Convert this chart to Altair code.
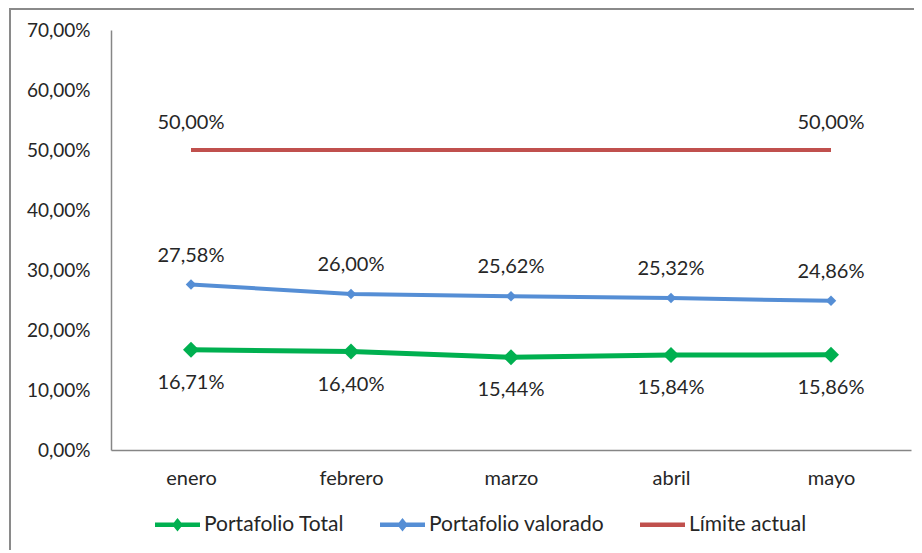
import altair as alt
import pandas as pd

meses = ["enero", "febrero", "marzo", "abril", "mayo"]
total = [16.71, 16.40, 15.44, 15.84, 15.86]
valorado = [27.58, 26.00, 25.62, 25.32, 24.86]
limite = [50.0, 50.0, 50.0, 50.0, 50.0]
series = ["Portafolio Total", "Portafolio valorado", "Límite actual"]
colores = ["#00B050", "#558ED5", "#C0504D"]
y_ticks = [0, 10, 20, 30, 40, 50, 60, 70]
limite_label_meses = ["enero", "mayo"]

rows = []
for s, vals in zip(series, [total, valorado, limite]):
    for m, v in zip(meses, vals):
        rows.append({"mes": m, "serie": s, "valor": v})
df = pd.DataFrame(rows)

TXT = "#262626"
GRAY = "#868686"
FS = 20
FMT = "replace(format(datum.valor, '.2f'), '.', ',') + '%'"

x = alt.X("mes:N", sort=meses,
          scale=alt.Scale(type="point", padding=0.5),
          axis=alt.Axis(title=None, labelAngle=0, ticks=False, domainColor=GRAY,
                        domainWidth=1.5, labelFontSize=FS, labelPadding=18,
                        labelColor=TXT))
y = alt.Y("valor:Q", scale=alt.Scale(domain=[0, 70], nice=False),
          axis=alt.Axis(title=None, values=y_ticks, grid=False, ticks=False,
                        domainColor=GRAY, domainWidth=1.5, labelFontSize=19,
                        labelPadding=21, labelColor=TXT,
                        labelExpr="replace(format(datum.value, '.2f'), '.', ',') + '%'"))

color_scale = alt.Scale(domain=series, range=colores)

path_ld = "M-1,-0.1L-0.16,-0.1L0,-0.3L0.16,-0.1L1,-0.1L1,0.1L0.16,0.1L0,0.3L-0.16,0.1L-1,0.1Z"
path_l = "M-1,-0.1L1,-0.1L1,0.1L-1,0.1Z"

base = alt.Chart(df)
color = alt.Color("serie:N", scale=color_scale, sort=series)
color_leg = alt.Color("serie:N", scale=color_scale, sort=series,
                      legend=alt.Legend(title=None, orient="bottom", direction="horizontal",
                                        symbolOpacity=1, labelFontSize=21, labelOffset=4,
                                        columnPadding=35, symbolStrokeWidth=0,
                                        symbolSize=2025, labelColor=TXT, labelLimit=400,
                                        padding=44, offset=-30))

line_total = base.transform_filter(alt.datum.serie == "Portafolio Total").mark_line(
    strokeWidth=5).encode(x=x, y=y, color=color_leg)
line_rest = base.transform_filter(alt.datum.serie != "Portafolio Total").mark_line(
    strokeWidth=4).encode(x=x, y=y, color=color)

pts_total = base.transform_filter(alt.datum.serie == "Portafolio Total").mark_point(
    filled=True, opacity=1, shape="diamond", size=256).encode(x=x, y=y, color=color)
pts_val = base.transform_filter(alt.datum.serie == "Portafolio valorado").mark_point(
    filled=True, opacity=1, shape="diamond", size=110).encode(x=x, y=y, color=color)

legend_layer = base.mark_point(filled=True, opacity=0).encode(
    x=x, y=y,
    color=color,
    shape=alt.Shape("serie:N", scale=alt.Scale(domain=series, range=[path_ld, path_ld, path_l]),
                    sort=series),
)

def labels(serie, dy, months=None):
    c = base.transform_filter(alt.datum.serie == serie)
    if months is not None:
        c = c.transform_filter(alt.FieldOneOfPredicate(field="mes", oneOf=months))
    return c.transform_calculate(lbl=FMT).mark_text(
        dy=dy, fontSize=FS, color=TXT
    ).encode(x=x, y=y, text="lbl:N")

t_total = labels("Portafolio Total", 33)
t_val = labels("Portafolio valorado", -29)
t_lim = labels("Límite actual", -27, limite_label_meses)

border_left = alt.Chart(df).mark_rule(color="#8a8a8a", strokeWidth=2).encode(
    x=alt.value(-101), y=alt.value(-21), y2=alt.value(540))
border_top = alt.Chart(df).mark_rule(color="#8a8a8a", strokeWidth=2).encode(
    x=alt.value(-102), x2=alt.value(805), y=alt.value(-21))

chart = alt.layer(
    line_total, line_rest, pts_total, pts_val, legend_layer,
    t_total, t_val, t_lim, border_left, border_top
).properties(
    width=800, height=420,
    autosize=alt.AutoSizeParams(type="none"),
    padding={"left": 103, "top": 22, "right": 3, "bottom": 100},
).configure(
    font="Lato"
).configure_view(
    strokeWidth=0
)

chart.save("out.html", embed_options={"renderer": "svg", "actions": False})
